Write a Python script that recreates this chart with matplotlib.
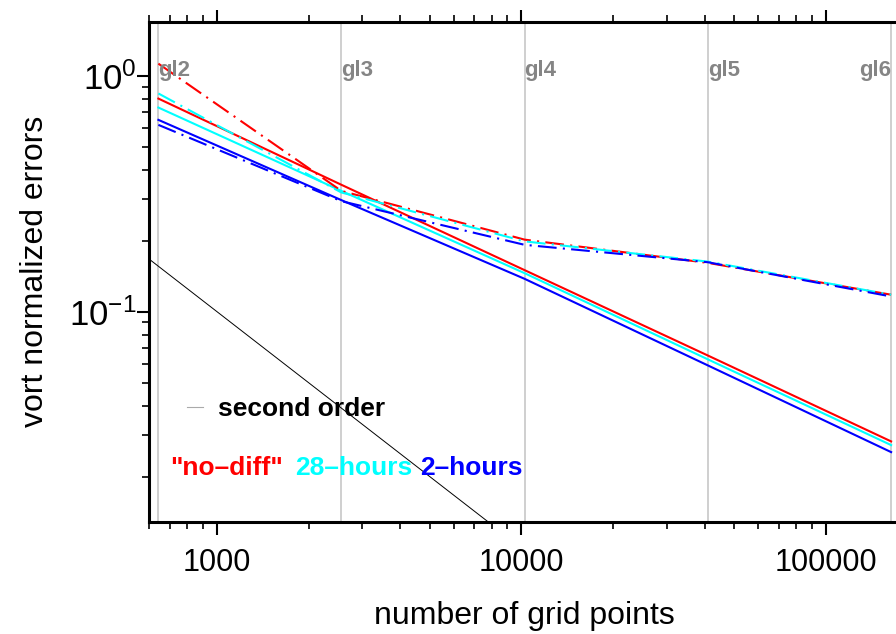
import numpy as np
import matplotlib
matplotlib.use("Agg")
import matplotlib.pyplot as plt
from matplotlib.ticker import FixedLocator, FuncFormatter, LogLocator, NullFormatter

plt.rcParams['font.family'] = ['Liberation Sans', 'DejaVu Sans']

# grid levels (icosahedral) and number of points
gl_names = ["gl2", "gl3", "gl4", "gl5", "gl6"]
npts = [642, 2562, 10242, 40962, 163842]

# vort normalized errors, solid lines
err_nodiff = [0.800, 0.345, 0.150, 0.0652, 0.0282]
err_28h = [0.733, 0.325, 0.1456, 0.0628, 0.0272]
err_2h = [0.650, 0.297, 0.1378, 0.0592, 0.0254]

# dash-dot lines
err_nodiff_dd = [1.125, 0.325, 0.202, 0.161, 0.118]
err_28h_dd = [0.841, 0.320, 0.1986, 0.163, 0.118]
err_2h_dd = [0.619, 0.294, 0.192, 0.162, 0.116]

# second order reference: err = coef / N
second_order_coef = 100.0

xlim = (598, 170000)
ylim = (0.01288, 1.689)

fig = plt.figure(figsize=(8.96, 6.34), dpi=100)
ax = fig.add_axes([149/896, 1 - 521.7/634, 747/896, 499.7/634])
ax.set_xscale('log')
ax.set_yscale('log')

# grid level lines and labels
for name, n in zip(gl_names, npts):
    ax.axvline(n, color='#cccccc', lw=1.3, zorder=0)
    ha = 'right' if name == gl_names[-1] else 'left'
    ax.text(n, 1.0, name, color='#858585', fontsize=16, fontweight='bold',
            ha=ha, va='baseline')

dd = (0, (9, 3, 1, 3))
ax.plot(npts, err_nodiff, color='red', lw=1.5)
ax.plot(npts, err_28h, color='cyan', lw=1.5)
ax.plot(npts, err_2h, color='blue', lw=1.5)
ax.plot(npts, err_nodiff_dd, color='red', lw=1.5, linestyle=dd)
ax.plot(npts, err_28h_dd, color='cyan', lw=1.5, linestyle=dd)
ax.plot(npts, err_2h_dd, color='blue', lw=1.5, linestyle=dd)

xr = np.array(xlim)
ref_line, = ax.plot(xr, second_order_coef / xr, color='black', lw=0.7)

ax.set_xlim(xlim)
ax.set_ylim(ylim)

# legend-ish text
leg = ax.legend([ref_line], ['second order'], loc='center left',
                bbox_to_anchor=(0.037, 0.2255), frameon=False, handlelength=0.6,
                handletextpad=0.57, prop={'size': 19, 'weight': 'bold'},
                borderaxespad=0)
for l in leg.get_lines():
    l.set_color('#aaaaaa')
    l.set_linewidth(0.8)

ax.text(0.028, 0.1075, '"no–diff"', color='red', fontsize=19, fontweight='bold',
        transform=ax.transAxes, va='center')
ax.text(0.1955, 0.1075, '28–hours', color='cyan', fontsize=19, fontweight='bold',
        transform=ax.transAxes, va='center')
ax.text(0.363, 0.1075, '2–hours', color='blue', fontsize=19, fontweight='bold',
        transform=ax.transAxes, va='center')

# axes styling
for s in ['left', 'bottom', 'top']:
    ax.spines[s].set_linewidth(2.2)
ax.spines['right'].set_visible(False)

ax.xaxis.set_major_locator(FixedLocator([1000, 10000, 100000]))
ax.xaxis.set_minor_locator(LogLocator(base=10, subs=np.arange(2, 10)))
ax.xaxis.set_major_formatter(FuncFormatter(lambda v, p: "%d" % v))
ax.xaxis.set_minor_formatter(NullFormatter())
ax.tick_params(axis='x', which='both', direction='out', top=True, bottom=True)
ax.tick_params(axis='y', which='both', direction='out', left=True, right=False)
ax.tick_params(which='major', length=9, width=1.5)
ax.tick_params(which='minor', length=5, width=1.2)
ax.tick_params(axis='x', which='major', pad=10, labelsize=22)
ax.tick_params(axis='y', which='major', pad=0, labelsize=25)

ax.set_xlabel("number of grid points", fontsize=23)
ax.set_ylabel("vort normalized errors", fontsize=23)
ax.xaxis.set_label_coords(0.503, -0.158)
ax.yaxis.set_label_coords(-0.133, 0.5)

fig.savefig("out.png", dpi=100)
